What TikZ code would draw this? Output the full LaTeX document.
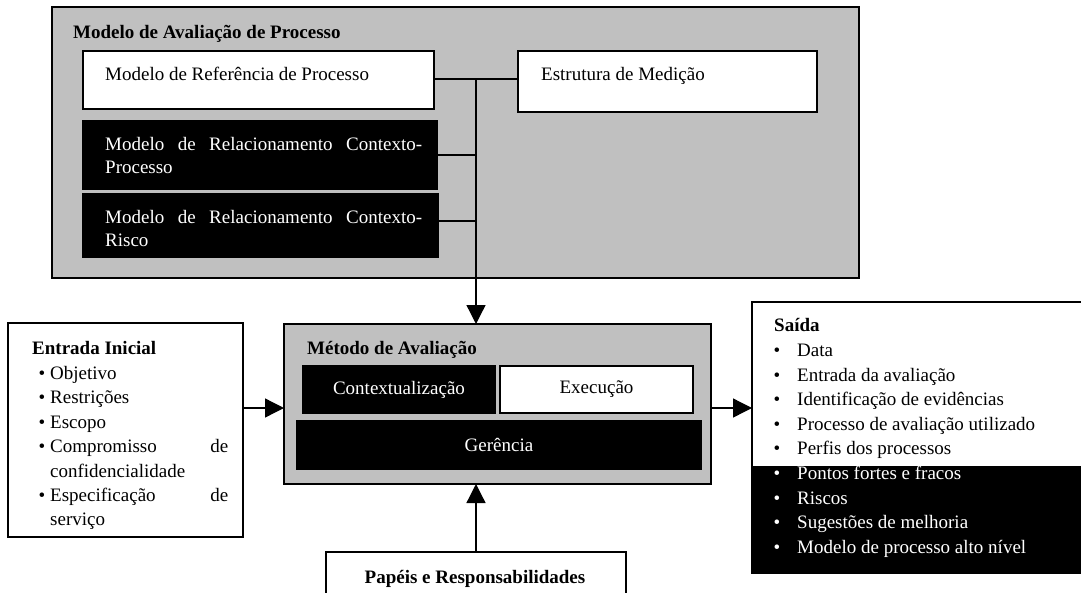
\documentclass[tikz,border=0pt]{standalone}
\usepackage{fontspec}
\setmainfont{Liberation Serif}
\usetikzlibrary{arrows.meta}
\definecolor{panelgray}{HTML}{C0C0C0}
\begin{document}
\begin{tikzpicture}[x=1pt,y=-1pt,
  font=\fontsize{19}{23}\selectfont,
  frame/.style={draw=black,line width=1.3pt,inner sep=0pt,outer sep=0pt},
  graybox/.style={frame,fill=panelgray},
  whitebox/.style={frame,fill=white},
  blackbox/.style={frame,fill=black,text=white},
  conn/.style={line width=1.3pt},
  arr/.style={conn,-{Triangle[length=19pt,width=19pt]}},
  txt/.style={anchor=base west,inner sep=0pt},
  blt/.style={anchor=base,inner sep=0pt}]
\useasboundingbox (0,0) rectangle (1081,592);

% ---- Modelo de Avaliacao de Processo ----
\node[graybox,minimum width=807pt,minimum height=271pt] (pam) at (455.5,142.5) {};
\node[txt,font=\fontsize{19}{23}\selectfont\bfseries] (pamt) at (73,38.5) {Modelo de Avaliação de Processo};
\node[whitebox,minimum width=351pt,minimum height=58pt] (ref) at (258.5,80) {};
\node[txt] (reft) at (105,80.5) {Modelo de Referência de Processo};
\node[whitebox,minimum width=299pt,minimum height=61pt] (est) at (667.5,81.5) {};
\node[txt] (estt) at (541,80.5) {Estrutura de Medição};
\node[blackbox,minimum width=354pt,minimum height=68pt] (b1) at (260,155) {};
\node[txt,text=white] (b1a) at (105,150.5) {\makebox[317pt][s]{Modelo de Relacionamento Contexto-}};
\node[txt,text=white] (b1b) at (105,173.5) {Processo};
\node[blackbox,minimum width=355pt,minimum height=63pt] (b2) at (260.5,225.5) {};
\node[txt,text=white] (b2a) at (105,223.5) {\makebox[317pt][s]{Modelo de Relacionamento Contexto-}};
\node[txt,text=white] (b2b) at (105,246.5) {Risco};

% ---- Metodo de Avaliacao ----
\node[graybox,minimum width=427pt,minimum height=160pt] (met) at (497.5,404) {};
\node[txt,font=\fontsize{19}{23}\selectfont\bfseries] (mett) at (307,354.5) {Método de Avaliação};
\node[blackbox,minimum width=192pt,minimum height=47pt] (ctx) at (399,389.5) {Contextualização};
\node[whitebox,minimum width=193pt,minimum height=47pt] (exe) at (596.5,389.5) {Execução};
\node[blackbox,minimum width=404pt,minimum height=48pt] (ger) at (499,445) {Gerência};

% ---- Entrada Inicial ----
\node[whitebox,minimum width=235pt,minimum height=214pt] (ent) at (125.5,430) {};
\node[txt,font=\fontsize{19}{23}\selectfont\bfseries] (entt) at (32,354.5) {Entrada Inicial};
\foreach \t [count=\i from 0] in {Objetivo,Restrições,Escopo,{\makebox[178pt][s]{Compromisso\hfill de}},confidencialidade,{\makebox[178pt][s]{Especificação\hfill de}},serviço}
  \node[txt] (e\i) at (50,379.5+24.4*\i) {\t};
\foreach \i in {0,1,2,3,5}
  \node[blt] (eb\i) at (42,379.5+24.4*\i) {•};

% ---- Saida ----
\node[whitebox,minimum width=338pt,minimum height=271pt] (sai) at (921,437.5) {};
\fill[black] (sai.west |- 0,466) rectangle (sai.south east);
\draw[conn] (sai.north west) rectangle (sai.south east);
\node[txt,font=\fontsize{19}{23}\selectfont\bfseries] (sait) at (774,331.5) {Saída};
\foreach \t [count=\i from 0] in {Data,Entrada da avaliação,Identificação de evidências,Processo de avaliação utilizado,Perfis dos processos}{
  \node[txt] (s\i) at (797,356.5+24.6*\i) {\t};
  \node[blt] (sb\i) at (777,356.5+24.6*\i) {•};
}
\foreach \t [count=\i from 5] in {Pontos fortes e fracos,Riscos,Sugestões de melhoria,Modelo de processo alto nível}{
  \node[txt,text=white] (s\i) at (797,356.5+24.6*\i) {\t};
  \node[blt,text=white] (sb\i) at (777,356.5+24.6*\i) {•};
}

% ---- Papeis ----
\node[whitebox,minimum width=300pt,minimum height=58pt] (pap) at (476,581) {};
\node[anchor=base,inner sep=0pt,font=\fontsize{19}{23}\selectfont\bfseries] (papt) at (475,583.5) {Papéis e Responsabilidades};

% ---- connectors ----
\coordinate (jt) at (476,79);
\draw[conn] (ref.east |- jt) -- (est.west |- jt);
\draw[conn] (b1.east) -- (b1.east -| jt);
\draw[conn] ([yshift=4.5pt]b2.east) -- ([yshift=4.5pt]b2.east -| jt);
\draw[arr] (jt) -- (jt |- met.north);
\draw[arr] (ent.east |- 0,408) -- (met.west |- 0,408);
\draw[arr] (met.east |- 0,408) -- (sai.west |- 0,408);
\draw[arr] (pap.north) -- (pap.north |- met.south);
\end{tikzpicture}
\end{document}
